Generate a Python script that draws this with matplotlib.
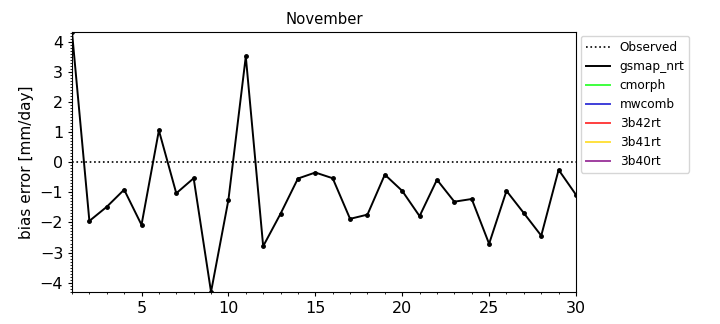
import matplotlib
matplotlib.use('Agg')
import matplotlib.pyplot as plt
from matplotlib.ticker import MultipleLocator
import numpy as np

days = np.arange(1, 31)
# daily bias error, gsmap_nrt (mm/day)
gsmap_nrt = [4.33, -1.95, -1.48, -0.91, -2.08, 1.06, -1.03, -0.53, -4.31, -1.25,
             3.52, -2.79, -1.71, -0.54, -0.34, -0.53, -1.88, -1.74, -0.41, -0.95,
             -1.79, -0.58, -1.31, -1.22, -2.71, -0.95, -1.69, -2.44, -0.25, -1.08]
observed = np.zeros(len(days))
# other products have no data this month
empty = ['cmorph', 'mwcomb', '3b42rt', '3b41rt', '3b40rt']
empty_colors = ['lime', 'mediumblue', 'red', 'gold', 'purple']

fig = plt.figure(figsize=(7.2, 3.24), dpi=100)
ax = fig.add_axes([0.1, 0.099, 0.7, 0.802])

ax.plot(days, observed, ':', color='black', lw=1.2, label='Observed')
ax.plot(days, gsmap_nrt, '-', color='black', lw=1.4, label='gsmap_nrt')
ax.plot(days, gsmap_nrt, 'o', color='black', markersize=2.5)
for name, c in zip(empty, empty_colors):
    ax.plot(days, np.full(len(days), np.nan), '-', color=c, alpha=0.75, lw=1.4, label=name)

ax.set_xlim(1, 30)
ax.set_ylim(min(gsmap_nrt), max(gsmap_nrt))
ax.xaxis.set_major_locator(MultipleLocator(5))
ax.xaxis.set_minor_locator(MultipleLocator(1))
ax.yaxis.set_major_locator(MultipleLocator(1))
ax.yaxis.set_minor_locator(MultipleLocator(0.1))
ax.tick_params(which='major', labelsize=11.5, length=2.8)
ax.tick_params(which='minor', length=1.6)
ax.set_title('November', fontsize=10.7)
ax.set_ylabel('bias error [mm/day]', fontsize=11)
ax.legend(loc='upper left', bbox_to_anchor=(1.01, 0.985), fontsize=8.7, borderaxespad=0)

fig.savefig('out.png', dpi=100)
